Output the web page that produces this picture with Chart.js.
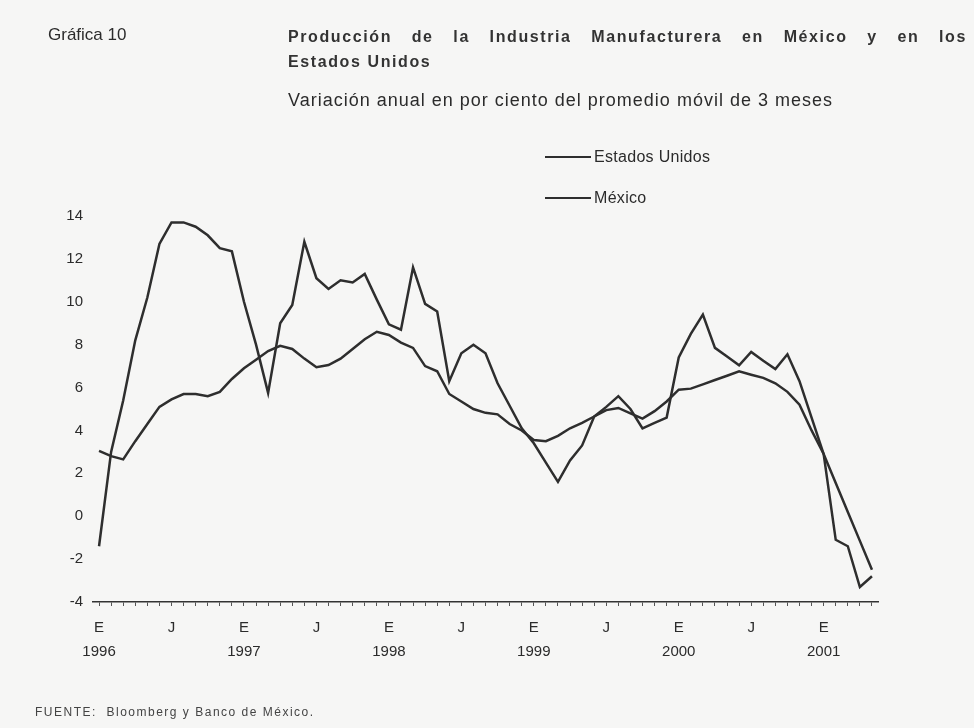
<!DOCTYPE html>
<html lang="es">
<head>
<meta charset="utf-8">
<title>Gráfica 10</title>
<script src="https://cdn.jsdelivr.net/npm/chart.js@4"></script>
<style>
  body { margin: 0; background: #f6f6f5; }
  #wrap { position: relative; width: 974px; height: 728px; font-family: "Liberation Sans", Arial, sans-serif; color: #2b2b2b; }
  #wrap canvas { position: absolute; left: 0; top: 0; }
  .txt { position: absolute; white-space: nowrap; }
  #titulo { left: 288px; top: 24px; width: 679px; font-size: 16px; font-weight: bold; letter-spacing: 1.6px; line-height: 25px; white-space: normal; color: #333; }
  #titulo .l1 { display: block; text-align: justify; text-align-last: justify; }
  #leyenda { position: absolute; left: 545px; top: 146px; font-size: 16px; letter-spacing: 0.3px; }
  #leyenda .item { display: flex; align-items: center; height: 22px; margin-bottom: 19px; }
  #leyenda .linea { width: 46px; height: 0; border-top: 2.5px solid #2e2e2e; margin-right: 3px; }
</style>
</head>
<body>
<div id="wrap">
  <canvas id="grafica" width="974" height="728"></canvas>
  <div class="txt" style="left:48px; top:25px; font-size:17px;">Gráfica 10</div>
  <div class="txt" id="titulo"><span class="l1">Producción de la Industria Manufacturera en México y en los</span>Estados Unidos</div>
  <div class="txt" style="left:288px; top:90px; font-size:18px; letter-spacing:1px;">Variación anual en por ciento del promedio móvil de 3 meses</div>
  <div id="leyenda"></div>
  <div class="txt" style="left:35px; top:705px; font-size:12px; letter-spacing:1.5px; color:#444;">FUENTE:&nbsp; Bloomberg y Banco de México.</div>
</div>
<script>
// meses de enero 1996 a mayo 2001
const anios = ["1996", "1997", "1998", "1999", "2000", "2001"];
const mesesUltimoAnio = 5;

// variación anual (%) del promedio móvil de 3 meses
const estadosUnidos = [
  3.05, 2.8, 2.65, 3.5, 4.3, 5.1, 5.45, 5.7, 5.7, 5.6, 5.8, 6.4,
  6.9, 7.3, 7.7, 7.95, 7.8, 7.35, 6.95, 7.05, 7.35, 7.8, 8.25, 8.6,
  8.45, 8.1, 7.85, 7.0, 6.76, 5.7, 5.35, 5.0, 4.82, 4.75, 4.3, 4.0,
  3.55, 3.5, 3.75, 4.1, 4.35, 4.65, 4.95, 5.05, 4.8, 4.55, 4.9, 5.35,
  5.9, 5.95, 6.15, 6.35, 6.55, 6.76, 6.6, 6.45, 6.2, 5.8, 5.2, 4.0,
  2.9, 1.55, 0.2, -1.15, -2.5
];
const mexico = [
  -1.4, 3.0, 5.4, 8.2, 10.2, 12.7, 13.7, 13.7, 13.5, 13.1, 12.5, 12.35,
  10.0, 8.0, 5.75, 9.0, 9.85, 12.8, 11.1, 10.6, 11.0, 10.9, 11.3, 10.1,
  8.95, 8.7, 11.6, 9.9, 9.55, 6.3, 7.6, 8.0, 7.6, 6.2, 5.15, 4.1,
  3.4, 2.5, 1.6, 2.6, 3.3, 4.65, 5.1, 5.6, 5.0, 4.1, 4.35, 4.6,
  7.4, 8.5, 9.4, 7.85, 7.45, 7.04, 7.66, 7.25, 6.86, 7.55, 6.3, 4.6,
  2.9, -1.1, -1.4, -3.3, -2.8
];

// etiquetas: E (enero) con el año debajo, J (julio), resto vacío
const etiquetas = [];
anios.forEach((a, i) => {
  const n = i === anios.length - 1 ? mesesUltimoAnio : 12;
  for (let m = 0; m < n; m++) {
    if (m === 0) etiquetas.push(["E", a]);
    else if (m === 6) etiquetas.push("J");
    else etiquetas.push("");
  }
});

const tinta = "#2e2e2e";
const fuente = "'Liberation Sans', Arial, sans-serif";

const chart = new Chart(document.getElementById("grafica"), {
  type: "line",
  data: {
    labels: etiquetas,
    datasets: [
      { label: "Estados Unidos", data: estadosUnidos, borderColor: tinta, borderWidth: 2.5, pointRadius: 0, tension: 0, fill: false },
      { label: "México", data: mexico, borderColor: tinta, borderWidth: 2.5, pointRadius: 0, tension: 0, fill: false }
    ]
  },
  options: {
    responsive: false,
    animation: false,
    devicePixelRatio: 1,
    layout: { padding: { top: 216, right: 96, bottom: 0, left: 0 } },
    plugins: { legend: { display: false }, tooltip: { enabled: false } },
    scales: {
      x: {
        type: "category",
        offset: true,
        grid: { display: true, drawOnChartArea: false, drawTicks: true, tickLength: 4, color: "#555", lineWidth: 1 },
        border: { display: true, color: "#333", width: 1.5 },
        ticks: { autoSkip: false, maxRotation: 0, padding: 10, color: "#2b2b2b", font: { family: fuente, size: 15, lineHeight: 1.6 } },
        afterFit: s => { s.height = 126; }
      },
      y: {
        min: -4,
        max: 14,
        grid: { display: false, drawTicks: false },
        border: { display: false },
        ticks: { stepSize: 2, padding: 10, color: "#2b2b2b", font: { family: fuente, size: 15 } },
        afterFit: s => { s.width = 93; }
      }
    }
  }
});

// leyenda a partir de las series
const leyenda = document.getElementById("leyenda");
chart.data.datasets.forEach(ds => {
  const item = document.createElement("div");
  item.className = "item";
  item.innerHTML = '<span class="linea"></span><span>' + ds.label + "</span>";
  leyenda.appendChild(item);
});
</script>
</body>
</html>
